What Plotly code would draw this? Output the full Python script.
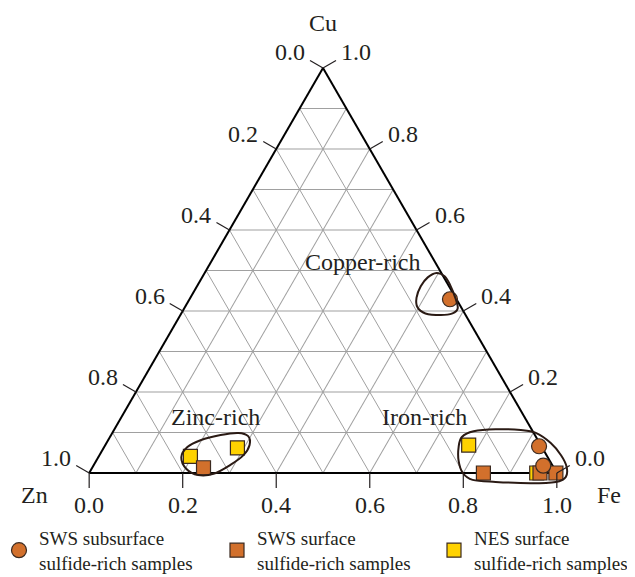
import numpy as np
import plotly.graph_objects as go

# ---------------- data (fractions: Cu, Zn, Fe) ----------------
sws_sub_cu = [0.429, 0.066, 0.018]
sws_sub_zn = [0.014, 0.005, 0.020]
sws_sub_fe = [0.557, 0.929, 0.962]

sws_surf_cu = [0.013, 0.000, 0.000, 0.000]
sws_surf_zn = [0.749, 0.157, 0.036, 0.002]
sws_surf_fe = [0.238, 0.843, 0.964, 0.998]

nes_surf_cu = [0.041, 0.062, 0.069, 0.000]
nes_surf_zn = [0.763, 0.652, 0.154, 0.043]
nes_surf_fe = [0.196, 0.286, 0.777, 0.957]

tick_vals = [0.0, 0.2, 0.4, 0.6, 0.8, 1.0]
tick_labels = ["0.0", "0.2", "0.4", "0.6", "0.8", "1.0"]
grid_step = 0.1

axis_titles = ["Cu", "Zn", "Fe"]
series_names = ["SWS subsurface<br>sulfide-rich samples",
                "SWS surface<br>sulfide-rich samples",
                "NES surface<br>sulfide-rich samples"]

group_labels = ["Copper-rich", "Zinc-rich", "Iron-rich"]
# label anchor positions in triangle units (x along base, y height fraction)
group_label_pos = [(0.585, 0.522), (0.270, 0.138), (0.717, 0.138)]

# enclosure outlines in triangle units
copper_loop = [(0.743, 0.494), (0.760, 0.486), (0.771, 0.466), (0.784, 0.429),
               (0.788, 0.406), (0.777, 0.394), (0.752, 0.390), (0.719, 0.394),
               (0.702, 0.409), (0.700, 0.433), (0.709, 0.461), (0.724, 0.483)]
zinc_loop = [(0.197, 0.039), (0.210, 0.064), (0.238, 0.081), (0.281, 0.094),
             (0.319, 0.099), (0.340, 0.091), (0.343, 0.069), (0.330, 0.044),
             (0.302, 0.020), (0.266, -0.002), (0.233, -0.005), (0.208, 0.010)]
iron_loop = [(0.797, 0.089), (0.822, 0.103), (0.869, 0.108), (0.923, 0.106),
             (0.955, 0.099), (0.987, 0.074), (1.009, 0.044), (1.021, 0.015),
             (1.019, -0.010), (0.998, -0.022), (0.944, -0.025), (0.869, -0.022),
             (0.820, -0.017), (0.799, 0.000), (0.790, 0.030), (0.790, 0.064)]

# ---------------- geometry ----------------
W, H = 635, 577
OFF = 8                       # page body margin in the browser
ML, MT = 89 - OFF, 68 - OFF
PW, PH = 468, 405
MR, MB = W - ML - PW, H - MT - PH
tri_w = min(PW, PH * 2 / np.sqrt(3))
tri_h = tri_w * np.sqrt(3) / 2
x_off, y_off = (PW - tri_w) / 2, (PH - tri_h) / 2


def tri_px(xf, yf):
    """triangle units -> window pixels (y downward)"""
    return OFF + ML + x_off + xf * tri_w, OFF + H - MB - y_off - yf * tri_h


def px_paper(x, y):
    """window pixels -> paper coordinates"""
    return (x - OFF - ML) / PW, (H - MB - (y - OFF)) / PH


def tri_to_paper(xf, yf):
    return px_paper(*tri_px(xf, yf))


def smooth_closed_path(pts):
    P = [tri_to_paper(x, y) for x, y in pts]
    n = len(P)
    d = f"M {P[0][0]:.5f},{P[0][1]:.5f}"
    for i in range(n):
        p0, p1, p2, p3 = P[i - 1], P[i], P[(i + 1) % n], P[(i + 2) % n]
        c1 = (p1[0] + (p2[0] - p0[0]) / 6, p1[1] + (p2[1] - p0[1]) / 6)
        c2 = (p2[0] - (p3[0] - p1[0]) / 6, p2[1] - (p3[1] - p1[1]) / 6)
        d += (f" C {c1[0]:.5f},{c1[1]:.5f} {c2[0]:.5f},{c2[1]:.5f}"
              f" {p2[0]:.5f},{p2[1]:.5f}")
    return d + " Z"


TXT = "#231f20"
ORANGE = "#D2702C"
YELLOW = "#FFD200"
EDGE = "#3b2a20"
FONT = "Liberation Serif"
TICK_LEN = 15
C30, S30 = np.cos(np.pi / 6), np.sin(np.pi / 6)

fig = go.Figure()

fig.add_trace(go.Scatterternary(
    a=nes_surf_cu, b=nes_surf_zn, c=nes_surf_fe, mode="markers",
    name=series_names[2], legend="legend3", cliponaxis=False,
    marker=dict(symbol="square", size=14, color=YELLOW,
                line=dict(color=EDGE, width=1.2))))
fig.add_trace(go.Scatterternary(
    a=sws_surf_cu, b=sws_surf_zn, c=sws_surf_fe, mode="markers",
    name=series_names[1], legend="legend2", cliponaxis=False,
    marker=dict(symbol="square", size=14, color=ORANGE,
                line=dict(color=EDGE, width=1.2))))
fig.add_trace(go.Scatterternary(
    a=sws_sub_cu, b=sws_sub_zn, c=sws_sub_fe, mode="markers",
    name=series_names[0], legend="legend", cliponaxis=False,
    marker=dict(symbol="circle", size=15, color=ORANGE,
                line=dict(color=EDGE, width=1.2))))

axis_common = dict(
    dtick=grid_step, tick0=0, ticks="", showticklabels=False,
    showline=True, linecolor="black", linewidth=2, layer="below traces",
    showgrid=True, gridcolor="#a0a0a0", gridwidth=1, title=dict(text=""))

legend_common = dict(xanchor="left", yanchor="top",
                     font=dict(family=FONT, size=19, color=TXT),
                     bgcolor="rgba(0,0,0,0)", borderwidth=0)
legend_symbol_x = [18, 236, 453]
legend_top_px = 519
lg = []
for sx in legend_symbol_x:
    lx, ly = px_paper(sx - 19, legend_top_px)
    lg.append(dict(x=lx, y=ly, **legend_common))

fig.update_layout(
    width=W, height=H,
    margin=dict(l=ML, r=MR, t=MT, b=MB, autoexpand=False),
    paper_bgcolor="white", plot_bgcolor="white",
    font=dict(family=FONT, size=24, color=TXT),
    ternary=dict(sum=1, bgcolor="white", domain=dict(x=[0, 1], y=[0, 1]),
                 aaxis=axis_common, baxis=axis_common, caxis=axis_common),
    legend=lg[0], legend2=lg[1], legend3=lg[2],
    showlegend=True,
)

# ---- tick marks and tick labels (perpendicular to each side) ----
tick_line = dict(color=TXT, width=1.2)
for v, lab in zip(tick_vals, tick_labels):
    # left side: Zn fraction (Zn = v, Fe = 0)
    x0, y0 = tri_px((1 - v) / 2, 1 - v)
    x1, y1 = x0 - C30 * TICK_LEN, y0 - S30 * TICK_LEN
    p0, p1 = px_paper(x0, y0), px_paper(x1, y1)
    fig.add_shape(type="line", x0=p0[0], y0=p0[1], x1=p1[0], y1=p1[1],
                  xref="paper", yref="paper", line=tick_line)
    lx, ly = px_paper(x1 - 3, y1 - 8)
    fig.add_annotation(x=lx, y=ly, xref="paper", yref="paper", text=lab,
                       showarrow=False, xanchor="right", yanchor="middle",
                       font=dict(family=FONT, size=24, color=TXT))
    # right side: Cu fraction (Cu = v, Zn = 0)
    x0, y0 = tri_px(1 - v / 2, v)
    x1, y1 = x0 + C30 * TICK_LEN, y0 - S30 * TICK_LEN
    p0, p1 = px_paper(x0, y0), px_paper(x1, y1)
    fig.add_shape(type="line", x0=p0[0], y0=p0[1], x1=p1[0], y1=p1[1],
                  xref="paper", yref="paper", line=tick_line)
    lx, ly = px_paper(x1 + 3, y1 - 8)
    fig.add_annotation(x=lx, y=ly, xref="paper", yref="paper", text=lab,
                       showarrow=False, xanchor="left", yanchor="middle",
                       font=dict(family=FONT, size=24, color=TXT))
    # bottom: Fe fraction (Fe = v, Cu = 0)
    x0, y0 = tri_px(v, 0)
    x1, y1 = x0, y0 + TICK_LEN
    p0, p1 = px_paper(x0, y0), px_paper(x1, y1)
    fig.add_shape(type="line", x0=p0[0], y0=p0[1], x1=p1[0], y1=p1[1],
                  xref="paper", yref="paper", line=tick_line)
    lx, ly = px_paper(x1, y1 + 2)
    fig.add_annotation(x=lx, y=ly, xref="paper", yref="paper", text=lab,
                       showarrow=False, xanchor="center", yanchor="top",
                       font=dict(family=FONT, size=24, color=TXT))

# ---- axis titles at the vertices ----
title_offsets = [(0.5, 1.0, 0, -45), (0.0, 0.0, -55, 22), (1.0, 0.0, 52, 22)]
for t, (xf, yf, dx, dy) in zip(axis_titles, title_offsets):
    x0, y0 = tri_px(xf, yf)
    px_, py_ = px_paper(x0 + dx, y0 + dy)
    fig.add_annotation(x=px_, y=py_, xref="paper", yref="paper", text=t,
                       showarrow=False, xanchor="center", yanchor="middle",
                       font=dict(family=FONT, size=24, color=TXT))

for loop in (copper_loop, zinc_loop, iron_loop):
    fig.add_shape(type="path", path=smooth_closed_path(loop),
                  xref="paper", yref="paper",
                  line=dict(color="#2a1a14", width=2), layer="above")

for text, (xf, yf) in zip(group_labels, group_label_pos):
    px_, py_ = tri_to_paper(xf, yf)
    fig.add_annotation(x=px_, y=py_, xref="paper", yref="paper", text=text,
                       showarrow=False, font=dict(family=FONT, size=24, color=TXT),
                       xanchor="center", yanchor="middle")

fig.write_html("out.html")
